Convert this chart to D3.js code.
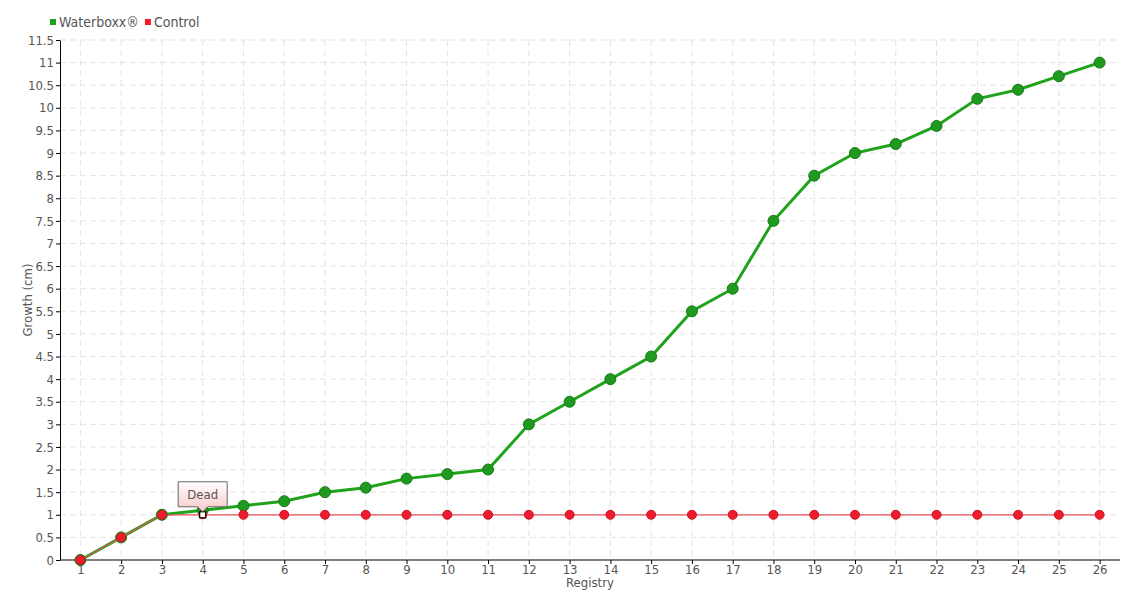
<!DOCTYPE html>
<html lang="en">
<head>
    <meta charset="UTF-8">
    <title>Waterboxx vs Control growth</title>
    <script src="https://d3js.org/d3.v7.min.js"></script>
    <style>
        body {
            margin: 0;
            background: #fff;
        }
        svg text {
            font-family: "DejaVu Sans", sans-serif;
            font-stretch: condensed;
            fill: #555;
        }
        .grid line {
            stroke: #e3e3e3;
            stroke-dasharray: 6,4;
        }
        .axis path, .axis line {
            stroke: #000;
        }
    </style>
</head>
<body>
    <svg width="1140" height="600"></svg>
    <script>
        const width = 1140;
        const height = 600;
        const svg = d3.select("svg");

        // Data
        const registry = d3.range(1, 27).map(String);
        const waterboxx = [0, 0.5, 1, 1.1, 1.2, 1.3, 1.5, 1.6, 1.8, 1.9, 2, 3, 3.5, 4, 4.5, 5.5, 6, 7.5, 8.5, 9, 9.2, 9.6, 10.2, 10.4, 10.7, 11];
        const control = [0, 0.5, 1, 1, 1, 1, 1, 1, 1, 1, 1, 1, 1, 1, 1, 1, 1, 1, 1, 1, 1, 1, 1, 1, 1, 1];
        const yTicks = d3.range(0, 11.51, 0.5);
        const deadIndex = 3;

        const margin = {top: 40, right: 20, bottom: 40, left: 60};

        const x = d3.scalePoint()
            .domain(registry)
            .range([margin.left, width - margin.right])
            .padding(0.5);

        const y = d3.scaleLinear()
            .domain([0, 11.5])
            .range([height - margin.bottom, margin.top]);

        // Grid
        const grid = svg.append("g").attr("class", "grid");
        grid.selectAll("line.h")
            .data(yTicks.slice(1))
            .enter().append("line")
            .attr("class", "h")
            .attr("x1", margin.left)
            .attr("x2", width - margin.right)
            .attr("y1", d => y(d))
            .attr("y2", d => y(d));
        grid.selectAll("line.v")
            .data(registry)
            .enter().append("line")
            .attr("class", "v")
            .attr("x1", d => x(d))
            .attr("x2", d => x(d))
            .attr("y1", margin.top)
            .attr("y2", height - margin.bottom);

        // Axes
        svg.append("g")
            .attr("class", "axis")
            .attr("transform", `translate(${margin.left},0)`)
            .call(d3.axisLeft(y).tickValues(yTicks).tickFormat(d => String(d)).tickSize(4).tickSizeOuter(0))
            .call(g => g.selectAll("text").style("font-size", "13px").attr("x", -6));

        svg.append("g")
            .attr("class", "axis")
            .attr("transform", `translate(0,${height - margin.bottom})`)
            .call(d3.axisBottom(x).tickSize(4).tickSizeOuter(0))
            .call(g => g.select(".domain").attr("d", `M${margin.left},0H${width - margin.right}`))
            .call(g => g.selectAll("text").style("font-size", "13px").attr("y", 5));

        // Axis titles
        svg.append("text")
            .attr("transform", `translate(32,${(margin.top + height - margin.bottom) / 2}) rotate(-90)`)
            .attr("text-anchor", "middle")
            .style("font-size", "13px")
            .text("Growth (cm)");

        svg.append("text")
            .attr("x", (margin.left + width - margin.right) / 2)
            .attr("y", 587)
            .attr("text-anchor", "middle")
            .style("font-size", "13px")
            .text("Registry");

        // Lines
        const line = d3.line()
            .x((d, i) => x(registry[i]))
            .y(d => y(d));

        svg.append("path")
            .datum(waterboxx)
            .attr("fill", "none")
            .attr("stroke", "#1ea31a")
            .attr("stroke-width", 3)
            .attr("d", line);

        svg.selectAll("circle.wb")
            .data(waterboxx)
            .enter().append("circle")
            .attr("class", "wb")
            .attr("cx", (d, i) => x(registry[i]))
            .attr("cy", d => y(d))
            .attr("r", 5.5)
            .attr("fill", "#1e9a1e")
            .attr("stroke", "#177a17")
            .attr("stroke-width", 1);

        svg.append("path")
            .datum(control)
            .attr("fill", "none")
            .attr("stroke", "#e8505a")
            .attr("stroke-width", 1.2)
            .attr("d", line);

        const controlPts = control.map((v, i) => ({v, i})).filter(p => p.i !== deadIndex);
        svg.selectAll("circle.ct")
            .data(controlPts)
            .enter().append("circle")
            .attr("class", "ct")
            .attr("cx", p => x(registry[p.i]))
            .attr("cy", p => y(p.v))
            .attr("r", 4.5)
            .attr("fill", "#ee1c2c")
            .attr("stroke", "#c8141f")
            .attr("stroke-width", 1);

        // Dead marker
        const dx = x(registry[deadIndex]);
        const dy = y(control[deadIndex]);
        svg.append("circle")
            .attr("cx", dx)
            .attr("cy", dy)
            .attr("r", 4.5)
            .attr("fill", "#ee1c2c");
        svg.append("rect")
            .attr("x", dx - 3)
            .attr("y", dy - 3)
            .attr("width", 6)
            .attr("height", 6)
            .attr("fill", "#fff")
            .attr("stroke", "#000")
            .attr("stroke-width", 1.2);

        // Tooltip
        const defs = svg.append("defs");
        const grad = defs.append("linearGradient")
            .attr("id", "tipGrad")
            .attr("x1", 0).attr("y1", 0).attr("x2", 0).attr("y2", 1);
        grad.append("stop").attr("offset", "0%").attr("stop-color", "#ffffff");
        grad.append("stop").attr("offset", "100%").attr("stop-color", "#f8c8c8");

        const tw = 49, th = 25;
        const tx = dx - tw / 2, ty = dy - 33;
        svg.append("path")
            .attr("d", `M${tx},${ty}H${tx + tw}V${ty + th}H${dx + 5}L${dx},${ty + th + 5}L${dx - 5},${ty + th}H${tx}Z`)
            .attr("fill", "url(#tipGrad)")
            .attr("stroke", "#666")
            .attr("stroke-width", 1);
        svg.append("text")
            .attr("x", dx)
            .attr("y", ty + 17)
            .attr("text-anchor", "middle")
            .style("font-size", "13px")
            .text("Dead");

        // Legend
        const legend = svg.append("g").attr("transform", "translate(50,22)");
        const items = [{name: "Waterboxx®", color: "#1ea31a"}, {name: "Control", color: "#ee1c2c"}];
        let lx = 0;
        items.forEach(it => {
            legend.append("rect")
                .attr("x", lx)
                .attr("y", -3)
                .attr("width", 6)
                .attr("height", 6)
                .attr("fill", it.color);
            const t = legend.append("text")
                .attr("x", lx + 9)
                .attr("y", 5)
                .style("font-size", "14px")
                .text(it.name);
            lx += 9 + t.node().getComputedTextLength() + 6;
        });
    </script>
</body>
</html>
